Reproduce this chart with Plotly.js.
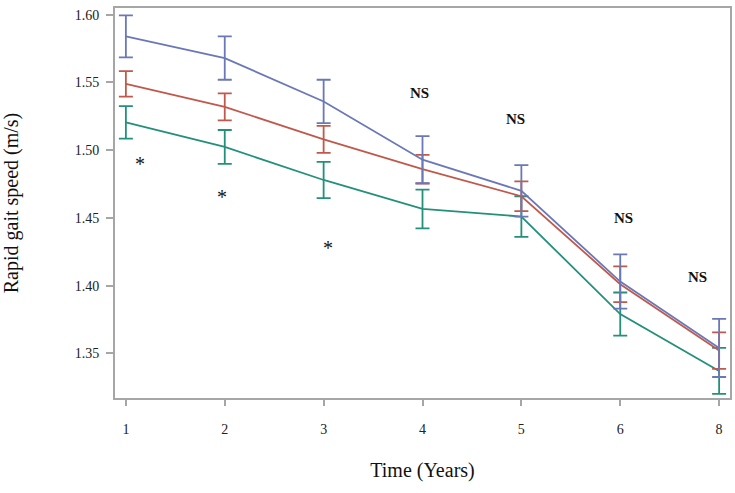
<!DOCTYPE html>
<html>
<head>
<meta charset="utf-8">
<script src="https://cdn.plot.ly/plotly-3.0.1.min.js"></script>
<style>html,body{margin:0;padding:0;background:#fff;}#chart{width:735px;height:493px;}</style>
</head>
<body>
<div id="chart"></div>
<script>
// Categories (years)
const years = ["1", "2", "3", "4", "5", "6", "8"];
// Series means (m/s)
const blueMean  = [1.584, 1.568, 1.536, 1.493, 1.470, 1.403, 1.354];
const redMean   = [1.549, 1.532, 1.508, 1.486, 1.466, 1.401, 1.352];
const greenMean = [1.5205, 1.5024, 1.478, 1.4566, 1.451, 1.379, 1.337];
// Error bar half-widths
const blueErr  = [0.0155, 0.016, 0.016, 0.0174, 0.019, 0.020, 0.0215];
const redErr   = [0.0094, 0.010, 0.010, 0.0106, 0.011, 0.0132, 0.0135];
const greenErr = [0.012, 0.0125, 0.0134, 0.0143, 0.015, 0.0159, 0.017];
// Significance labels
const sigText = ["*", "*", "*", "NS", "NS", "NS", "NS"];
const sigX    = [0.14, 0.968, 2.046, 2.974, 3.94, 5.03, 5.786];
const sigY    = [1.493, 1.4686, 1.431, 1.5424, 1.5232, 1.4502, 1.4066];
const yTicks  = [1.35, 1.40, 1.45, 1.50, 1.55, 1.60];

const serif = "Liberation Serif";

function series(y, err, color) {
  return {
    type: 'scatter', mode: 'lines', x: years, y: y,
    line: {color: color, width: 1.8},
    error_y: {type: 'data', array: err, visible: true, color: color, thickness: 1.8, width: 7},
    hoverinfo: 'skip', showlegend: false
  };
}

const data = [
  series(greenMean, greenErr, '#24907a'),
  series(redMean, redErr, '#c0594b'),
  series(blueMean, blueErr, '#6b78b8')
];

const annotations = sigText.map((t, i) => {
  const a = {
    x: sigX[i], y: sigY[i], xref: 'x', yref: 'y', showarrow: false,
    xanchor: 'center', yanchor: 'middle'
  };
  if (t === 'NS') {
    a.text = '<b>' + t + '</b>';
    a.font = {family: serif, size: 15, color: '#111'};
  } else {
    a.text = t;
    a.font = {family: serif, size: 20, color: '#111'};
    a.yshift = -4;
  }
  return a;
});

const layout = {
  width: 735, height: 493,
  margin: {l: 115, r: 3, t: 8, b: 95},
  paper_bgcolor: '#fff', plot_bgcolor: '#fff',
  font: {family: serif, color: '#222'},
  xaxis: {
    type: 'category', range: [-0.11, 6.11],
    showgrid: false, zeroline: false,
    showline: true, mirror: true, linecolor: '#a6a6a6', linewidth: 2,
    ticks: 'outside', ticklen: 6, tickwidth: 2, tickcolor: '#a6a6a6',
    ticklabelstandoff: 11,
    tickfont: {family: serif, size: 14, color: '#222'},
    title: {text: 'Time (Years)', font: {family: serif, size: 20, color: '#111'}, standoff: 27},
    automargin: true
  },
  yaxis: {
    range: [1.317, 1.605],
    tickvals: yTicks, tickformat: '.2f',
    showgrid: false, zeroline: false,
    showline: true, mirror: true, linecolor: '#a6a6a6', linewidth: 2,
    ticks: 'outside', ticklen: 7, tickwidth: 2, tickcolor: '#a6a6a6',
    ticklabelstandoff: 4,
    tickfont: {family: serif, size: 14, color: '#222'},
    title: {text: 'Rapid gait speed (m/s)', font: {family: serif, size: 20, color: '#111'}, standoff: 51},
    automargin: true
  },
  annotations: annotations
};

Plotly.newPlot('chart', data, layout, {displayModeBar: false, staticPlot: true});
</script>
</body>
</html>
